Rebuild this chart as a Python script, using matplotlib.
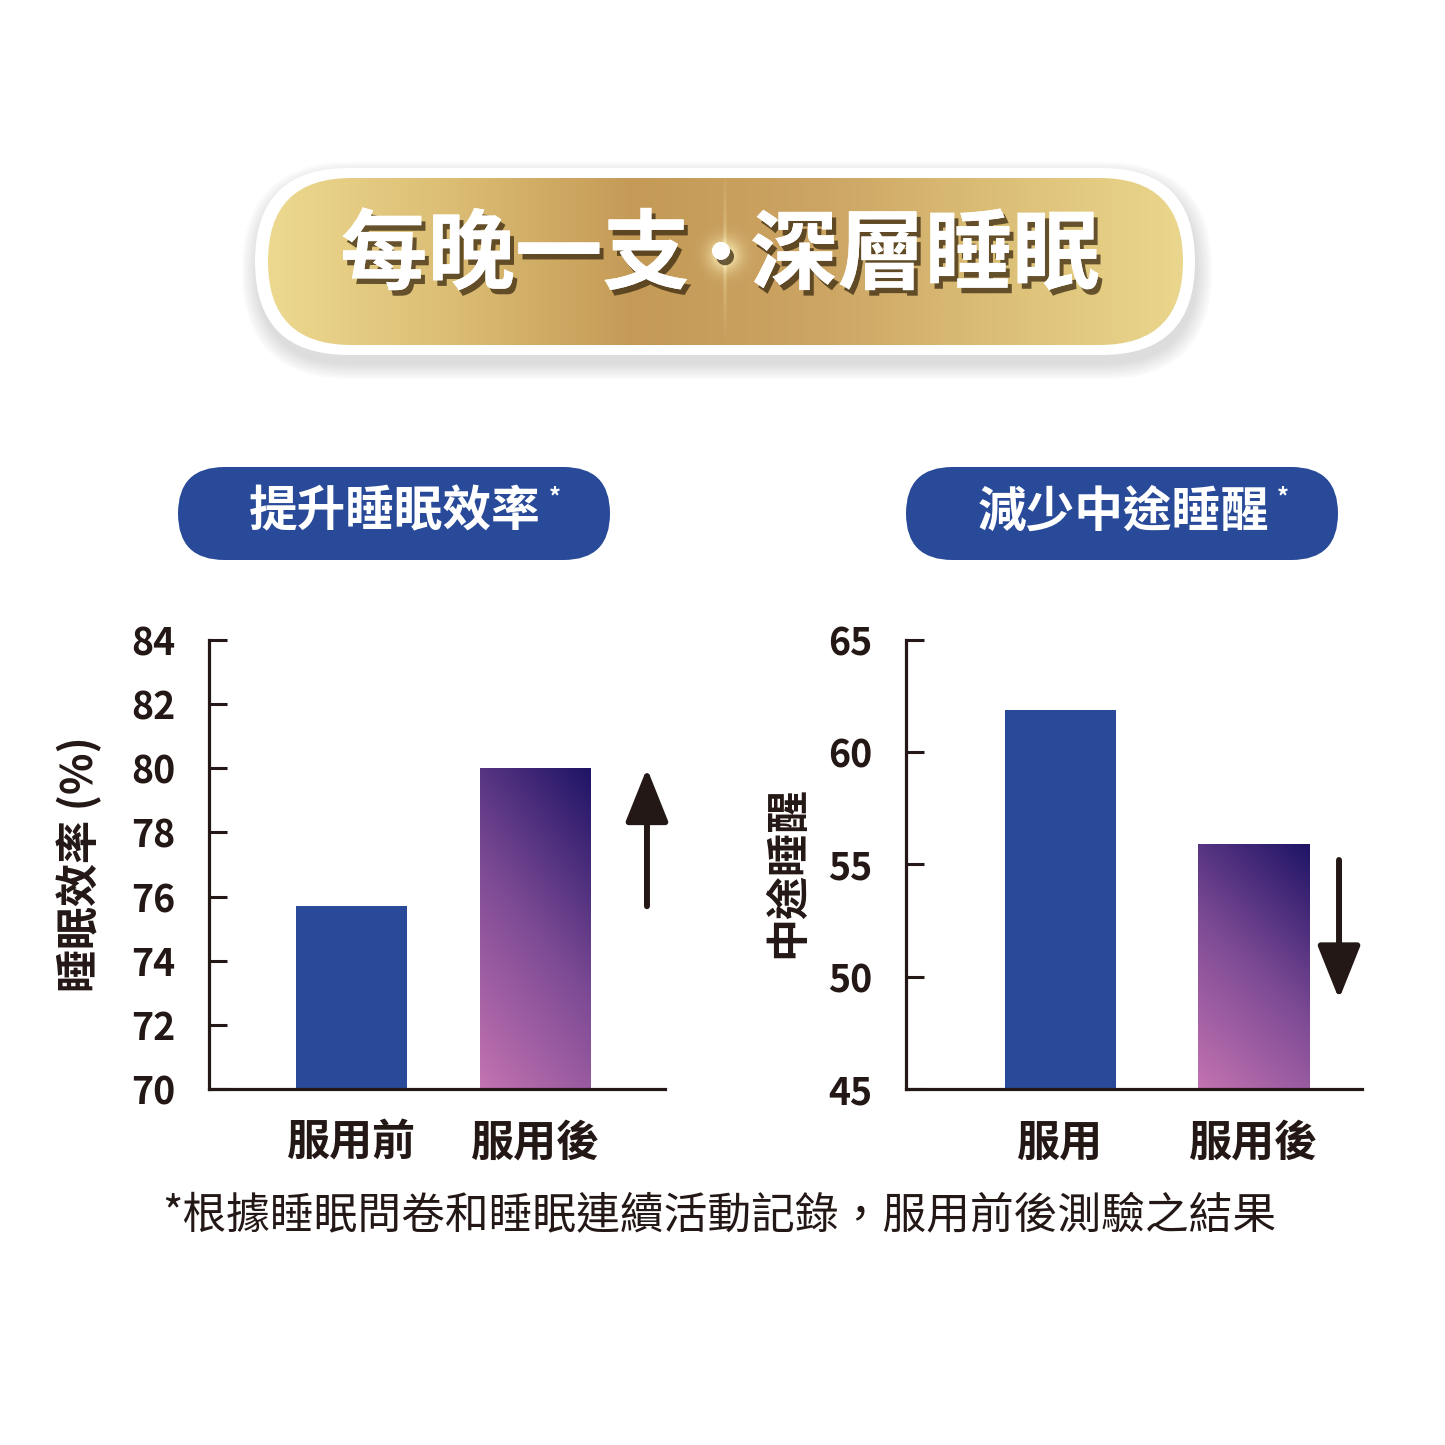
import numpy as np
import matplotlib.pyplot as plt
import matplotlib.patheffects as pe
from matplotlib.colors import LinearSegmentedColormap
from matplotlib.patches import FancyBboxPatch

plt.rcParams['font.family'] = ['Noto Sans CJK TC', 'DejaVu Sans']

W = H = 1445
INK = "#231815"
BLUE = "#284a98"

TITLE_LEFT = "每晚一支"
TITLE_DOT = "·"
TITLE_RIGHT = "深層睡眠"
LEFT_TAG = "提升睡眠效率"
RIGHT_TAG = "減少中途睡醒"
FOOTNOTE = "*根據睡眠問卷和睡眠連續活動記錄，服用前後測驗之結果"

EFF_LABELS = ["服用前", "服用後"]
EFF_VALUES = [75.7, 80.0]
EFF_TICKS = [70, 72, 74, 76, 78, 80, 82, 84]
EFF_ARROW = [75.7, 80.0]          # tail, tip
EFF_YLABEL = "睡眠效率 (%)"

WAKE_LABELS = ["服用", "服用後"]
WAKE_VALUES = [61.9, 55.9]
WAKE_TICKS = [45, 50, 55, 60, 65]
WAKE_ARROW = [55.2, 49.0]         # tail, tip
WAKE_YLABEL = "中途睡醒"

BAR_CMAP = LinearSegmentedColormap.from_list("bar", ["#c373b1", "#7c4a94", "#1f1466"])
GOLD_CMAP = LinearSegmentedColormap.from_list(
    "gold", ["#ecd98f", "#dcbd74", "#c49a56", "#cca463", "#dcbf77", "#ead68c"])


def gradient_bar(ax, rect):
    x0, y0 = rect.get_x(), rect.get_y()
    x1, y1 = x0 + rect.get_width(), y0 + rect.get_height()
    u, v = np.meshgrid(np.linspace(0, 1, 120), np.linspace(0, 1, 240))
    im = ax.imshow(0.3 * u + 0.7 * v, cmap=BAR_CMAP, extent=(x0, x1, y0, y1),
                   origin="lower", aspect="auto", zorder=2)
    im.set_clip_path(rect)


def draw_panel(ax, labels, values, ticks, ylabel, arrow, xlim, width, arrow_x, label_pos):
    pos = np.arange(len(values))
    bars = ax.bar(pos, [v - ticks[0] for v in values], bottom=ticks[0], width=width,
                  color=[BLUE, "none"], linewidth=0, zorder=2)
    gradient_bar(ax, bars[1])
    ax.set_xlim(*xlim)
    ax.set_ylim(ticks[0], ticks[-1])
    ax.set_facecolor("none")
    ax.set_yticks(ticks)
    ax.set_xticks(pos, labels)
    for side in ("top", "right"):
        ax.spines[side].set_visible(False)
    for side in ("left", "bottom"):
        ax.spines[side].set_linewidth(2.3)
        ax.spines[side].set_color(INK)
    ax.tick_params(axis="y", direction="in", length=13, width=2.2, color=INK, pad=24,
                   labelsize=27, labelcolor=INK)
    ax.tick_params(axis="x", length=0, pad=23, labelsize=31, labelcolor=INK)
    for t in ax.get_xticklabels() + ax.get_yticklabels():
        t.set_fontweight("bold")
    ax.set_ylabel(ylabel, fontsize=31, fontweight="bold", color=INK, va="center")
    ax.yaxis.set_label_coords(*label_pos)
    ax.annotate("", xy=(arrow_x, arrow[1]), xytext=(arrow_x, arrow[0]),
                arrowprops=dict(arrowstyle="-|>,head_length=0.5,head_width=0.2",
                                mutation_scale=66, lw=4.3, color=INK,
                                shrinkA=0, shrinkB=0))


fig = plt.figure(figsize=(W / 100, H / 100), dpi=100, facecolor="white")
bg = fig.add_axes([0, 0, 1, 1])
bg.set_xlim(0, W)
bg.set_ylim(H, 0)
bg.axis("off")

# title banner: soft shadow, white rim, gold gradient pill
for i in range(8):
    grow = 1 + i * 2
    bg.add_patch(FancyBboxPatch((255 - grow + 2, 168 - grow + 9), 940 + 2 * grow, 187 + 2 * grow,
                                boxstyle=f"round,pad=0,rounding_size={93.5 + grow}",
                                fc="#7a7a7a", ec="none", alpha=0.03))
bg.add_patch(FancyBboxPatch((255, 168), 940, 187, boxstyle="round,pad=0,rounding_size=93.5",
                            fc="white", ec="none"))
gold = FancyBboxPatch((268, 178), 915, 167, boxstyle="round,pad=0,rounding_size=83.5",
                      fc="none", ec="none")
bg.add_patch(gold)
gim = bg.imshow(np.linspace(0, 1, 400)[None, :], cmap=GOLD_CMAP, extent=(268, 1183, 345, 178),
                aspect="auto", zorder=1)
gim.set_clip_path(gold)

# little flare between the two phrases
gx, gy = np.meshgrid(np.linspace(-1, 1, 160), np.linspace(-1, 1, 160))
glow = np.zeros((160, 160, 4))
glow[..., 0], glow[..., 1], glow[..., 2] = 1.0, 0.96, 0.75
glow[..., 3] = np.clip(np.exp(-(gx ** 2 + gy ** 2) / 0.04) * 0.9
                       + np.exp(-gx ** 2 / 0.0004) * 0.35 * np.exp(-gy ** 2 / 0.6), 0, 1)
fim = bg.imshow(glow, extent=(645, 805, 335, 175), aspect="auto", zorder=2)
fim.set_clip_path(gold)

shadow = [pe.withSimplePatchShadow(offset=(3, -4), shadow_rgbFace="#3b2a10", alpha=0.75), pe.Normal()]
for x, text, size in ((515, TITLE_LEFT, 63), (721, TITLE_DOT, 50), (925, TITLE_RIGHT, 63)):
    bg.text(x, 257, text, fontsize=size, fontweight="black", color="white",
            ha="center", va="center", zorder=3, path_effects=shadow)

# blue tags
for x0, text in ((178, LEFT_TAG), (906, RIGHT_TAG)):
    bg.add_patch(FancyBboxPatch((x0, 467), 432, 93, boxstyle="round,pad=0,rounding_size=46.5",
                                fc=BLUE, ec="none"))
    bg.text(x0 + 217, 512, text, fontsize=35, fontweight="bold", color="white",
            ha="center", va="center")
    bg.text(x0 + 377, 497, "*", fontsize=17, fontweight="bold", color="white",
            ha="center", va="center")

ax1 = fig.add_axes([209 / W, 1 - 1089 / H, 456 / W, 449 / H])
draw_panel(ax1, EFF_LABELS, EFF_VALUES, EFF_TICKS, EFF_YLABEL, EFF_ARROW,
           (-0.774, 1.704), 0.603, 1.606, (-0.283, 0.5))

ax2 = fig.add_axes([906 / W, 1 - 1089 / H, 456 / W, 449 / H])
draw_panel(ax2, WAKE_LABELS, WAKE_VALUES, WAKE_TICKS, WAKE_YLABEL, WAKE_ARROW,
           (-0.80, 1.562), 0.575, 1.443, (-0.261, 0.483))

bg.text(719, 1216, FOOTNOTE, fontsize=31.5, color=INK, ha="center", va="center")

fig.savefig("out.png", dpi=100, facecolor="white")
